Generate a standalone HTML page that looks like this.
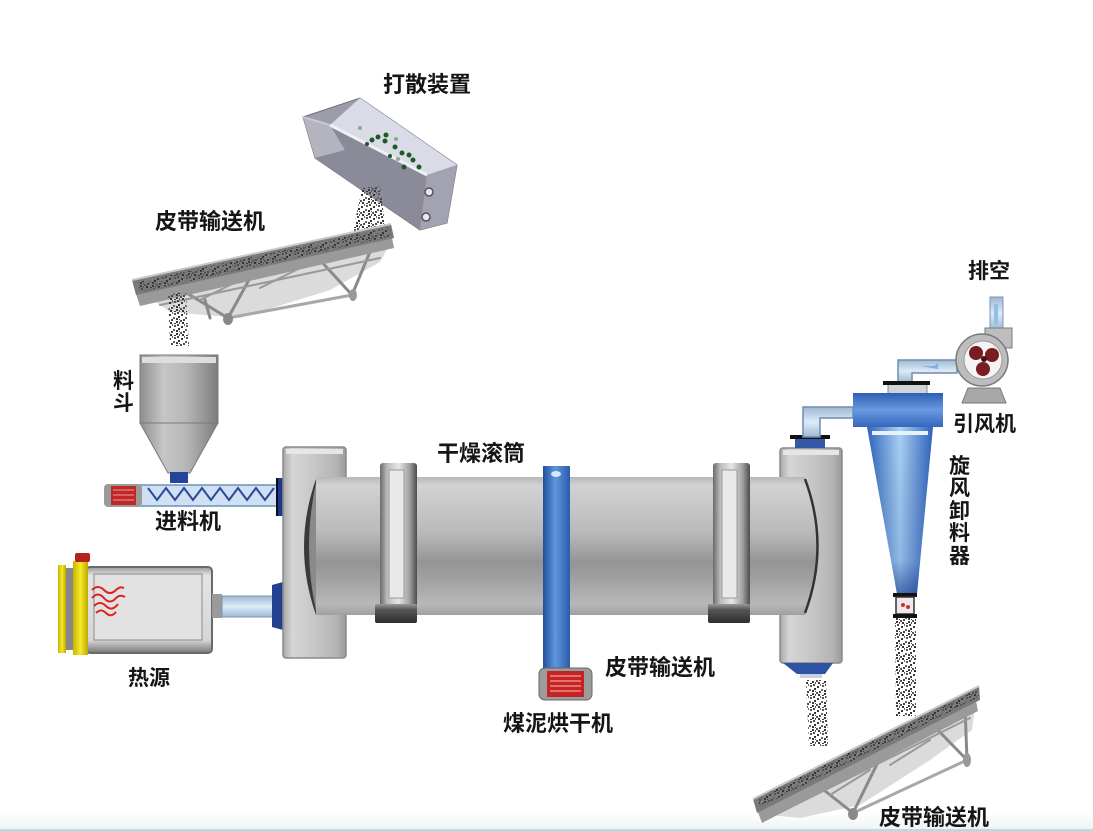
<!DOCTYPE html>
<html><head><meta charset="utf-8"><style>
html,body{margin:0;padding:0;background:#fff;}
svg{display:block;}
text{font-family:"Liberation Sans","Noto Sans CJK SC","WenQuanYi Zen Hei",sans-serif;font-weight:bold;fill:#151515;}
</style></head><body>
<svg width="1093" height="832" viewBox="0 0 1093 832" xmlns="http://www.w3.org/2000/svg">
<defs>
  <pattern id="sp" width="12" height="12" patternUnits="userSpaceOnUse">
    <rect x="1" y="2" width="2" height="2" fill="#3a3a3a"/><rect x="6" y="1" width="2" height="2" fill="#555"/>
    <rect x="10" y="4" width="2" height="2" fill="#333"/><rect x="3" y="7" width="2" height="2" fill="#4a4a4a"/>
    <rect x="8" y="9" width="2" height="2" fill="#3a3a3a"/><rect x="11" y="10" width="1" height="2" fill="#555"/>
    <rect x="2" y="10" width="2" height="2" fill="#333"/><rect x="5" y="5" width="2" height="2" fill="#666"/>
    <rect x="9" y="0" width="2" height="2" fill="#4a4a4a"/><rect x="6" y="11" width="2" height="1" fill="#3a3a3a"/>
    <rect x="0" y="8" width="2" height="2" fill="#555"/><rect x="8" y="6" width="2" height="2" fill="#3a3a3a"/>
    <rect x="4" y="0" width="1" height="2" fill="#666"/><rect x="11" y="7" width="1" height="1" fill="#444"/>
  </pattern>
  <linearGradient id="drum" x1="0" y1="0" x2="0" y2="1">
    <stop offset="0" stop-color="#b8b8b8"/><stop offset="0.06" stop-color="#d2d2d2"/>
    <stop offset="0.4" stop-color="#bababa"/><stop offset="0.62" stop-color="#949494"/>
    <stop offset="0.75" stop-color="#a2a2a2"/><stop offset="0.92" stop-color="#b8b8b8"/>
    <stop offset="1" stop-color="#a0a0a0"/>
  </linearGradient>
  <linearGradient id="house" x1="0" y1="0" x2="1" y2="0">
    <stop offset="0" stop-color="#a8a8a8"/><stop offset="0.15" stop-color="#d6d6d6"/>
    <stop offset="0.55" stop-color="#c4c4c4"/><stop offset="0.85" stop-color="#b4b4b4"/>
    <stop offset="1" stop-color="#9a9a9a"/>
  </linearGradient>
  <linearGradient id="ring" x1="0" y1="0" x2="1" y2="0">
    <stop offset="0" stop-color="#6a6a6a"/><stop offset="0.2" stop-color="#bdbdbd"/>
    <stop offset="0.5" stop-color="#e6e6e6"/><stop offset="0.8" stop-color="#a0a0a0"/>
    <stop offset="1" stop-color="#4c4c4c"/>
  </linearGradient>
  <linearGradient id="base" x1="0" y1="0" x2="0" y2="1">
    <stop offset="0" stop-color="#9a9a9a"/><stop offset="0.3" stop-color="#555"/><stop offset="1" stop-color="#2e2e2e"/>
  </linearGradient>
  <linearGradient id="bluebar" x1="0" y1="0" x2="1" y2="0">
    <stop offset="0" stop-color="#1f4f9e"/><stop offset="0.45" stop-color="#5f96dc"/>
    <stop offset="1" stop-color="#2a5cac"/>
  </linearGradient>
  <linearGradient id="hop" x1="0" y1="0" x2="1" y2="0">
    <stop offset="0" stop-color="#8e8e8e"/><stop offset="0.3" stop-color="#c6c6c6"/>
    <stop offset="0.6" stop-color="#b6b6b6"/><stop offset="1" stop-color="#7c7c7c"/>
  </linearGradient>
  <linearGradient id="cyhead" x1="0" y1="0" x2="0" y2="1">
    <stop offset="0" stop-color="#2d5fb4"/><stop offset="0.5" stop-color="#6a9ae0"/><stop offset="1" stop-color="#3466bc"/>
  </linearGradient>
  <linearGradient id="cone" x1="0" y1="0" x2="1" y2="0">
    <stop offset="0" stop-color="#2f62bd"/><stop offset="0.5" stop-color="#a9d2f6"/><stop offset="1" stop-color="#2f62bd"/>
  </linearGradient>
  <linearGradient id="conev" x1="0" y1="0" x2="0" y2="1">
    <stop offset="0" stop-color="#000" stop-opacity="0"/><stop offset="0.8" stop-color="#0a2a80" stop-opacity="0.15"/>
    <stop offset="1" stop-color="#0a2a80" stop-opacity="0.6"/>
  </linearGradient>
  <linearGradient id="pipe" x1="0" y1="0" x2="0" y2="1">
    <stop offset="0" stop-color="#9fb8d2"/><stop offset="0.5" stop-color="#dcebf8"/><stop offset="1" stop-color="#9fb8d2"/>
  </linearGradient>
  <linearGradient id="heatbox" x1="0" y1="0" x2="0" y2="1">
    <stop offset="0" stop-color="#9a9a9a"/><stop offset="0.1" stop-color="#e4e4e4"/>
    <stop offset="0.85" stop-color="#d6d6d6"/><stop offset="1" stop-color="#777"/>
  </linearGradient>
  <linearGradient id="yel" x1="0" y1="0" x2="1" y2="0">
    <stop offset="0" stop-color="#c8b400"/><stop offset="0.5" stop-color="#f6ea2a"/><stop offset="1" stop-color="#bca800"/>
  </linearGradient>
  <linearGradient id="bottomband" x1="0" y1="0" x2="0" y2="1">
    <stop offset="0" stop-color="#ffffff"/><stop offset="1" stop-color="#eef4f6"/>
  </linearGradient>
</defs>

<rect x="0" y="0" width="1093" height="832" fill="#fff"/>
<rect x="0" y="812" width="1093" height="18" fill="url(#bottomband)"/>
<rect x="0" y="829" width="1093" height="3" fill="#c9d5dc"/>

<!-- ===== 打散装置 trough ===== -->
<polygon points="303,117 360,98 457,165 447,223 420,230 315,158" fill="#9c9cab" stroke="#6e6e7c" stroke-width="1"/>
<polygon points="303,117 330,125 345,150 315,158" fill="#b4b4c0"/>
<polygon points="330,125 427,175 420,230 315,158 345,150" fill="#8a8a99"/>
<polygon points="330,125 360,98 457,165 427,175" fill="#d9dce6"/>
<polygon points="427,175 457,165 447,223 420,230" fill="#a2a2b0"/>
<line x1="330" y1="125" x2="427" y2="175" stroke="#f0f0f4" stroke-width="3"/>
<line x1="303" y1="117" x2="330" y2="125" stroke="#c8c8d2" stroke-width="2"/>
<circle cx="429" cy="192" r="4" fill="#e8e8ee" stroke="#555" stroke-width="1.5"/>
<circle cx="426" cy="217" r="4" fill="#e8e8ee" stroke="#555" stroke-width="1.5"/>
<g fill="#1e5a26">
<circle cx="372" cy="140" r="2.5"/><circle cx="378" cy="137" r="2.5"/><circle cx="386" cy="135" r="2.5"/>
<circle cx="385" cy="141" r="2.5"/><circle cx="395" cy="147" r="2.5"/><circle cx="402" cy="153" r="2.5"/>
<circle cx="409" cy="155" r="2.5"/><circle cx="413" cy="160" r="2.5"/><circle cx="404" cy="167" r="2.5"/>
<circle cx="390" cy="156" r="2"/><circle cx="419" cy="167" r="2.5"/><circle cx="367" cy="144" r="2"/>
</g>
<g fill="#8aa890"><circle cx="360" cy="128" r="2"/><circle cx="396" cy="139" r="2"/><circle cx="398" cy="159" r="2"/></g>

<!-- stream trough -> conveyor -->
<polygon points="362,188 380,186 386,232 352,236" fill="url(#sp)"/>

<!-- ===== Top-left conveyor ===== -->
<polygon points="150,298 390,244 380,262 330,290 240,318 170,312" fill="#d2d2d2" opacity="0.8"/>
<g stroke="#8a8a8a" stroke-width="3" fill="none" stroke-linecap="round">
  <line x1="185" y1="292" x2="228" y2="318"/>
  <line x1="250" y1="278" x2="228" y2="318"/>
  <line x1="320" y1="260" x2="352" y2="295"/>
  <line x1="372" y1="247" x2="352" y2="295"/>
  <line x1="228" y1="318" x2="352" y2="295" stroke="#a8a8a8"/>
  <line x1="160" y1="305" x2="380" y2="258" stroke="#999" stroke-width="2"/>
  <line x1="200" y1="300" x2="240" y2="280" stroke="#999" stroke-width="2"/>
  <line x1="260" y1="288" x2="300" y2="268" stroke="#999" stroke-width="2"/>
  <line x1="205" y1="300" x2="210" y2="318" stroke="#888" stroke-width="3"/>
</g>
<polygon points="136,294 392,238 394,248 140,306" fill="#9a9a9a"/>
<polygon points="132,280 391,224 394,238 136,295" fill="#7a7a7a"/>
<line x1="132" y1="280" x2="391" y2="224" stroke="#c9c9c9" stroke-width="2"/>
<polygon points="138,282 390,227 392,236 140,292" fill="url(#sp)"/>
<ellipse cx="228" cy="319" rx="5" ry="6" fill="#888"/>
<ellipse cx="353" cy="295" rx="4" ry="6" fill="#999"/>
<!-- stream from conveyor -->
<polygon points="168,294 186,292 189,346 170,346" fill="url(#sp)"/>

<!-- ===== Hopper 料斗 ===== -->
<rect x="140" y="355" width="78" height="68" fill="url(#hop)" stroke="#7a7a7a"/>
<rect x="142" y="357" width="74" height="6" fill="#dedede"/>
<polygon points="140,423 218,423 190,473 168,473" fill="url(#hop)" stroke="#7a7a7a"/>
<rect x="170" y="472" width="18" height="11" fill="#24449a"/>

<!-- ===== Screw feeder ===== -->
<rect x="140" y="485" width="138" height="21" fill="#cfe0f3" stroke="#6f8fb8" stroke-width="1.5"/>
<polyline points="148,488 157,500 166,488 175,500 184,488 193,500 202,488 211,500 220,488 229,500 238,488 247,500 256,488 265,500 274,488" fill="none" stroke="#27499a" stroke-width="2"/>
<rect x="104" y="484" width="38" height="23" rx="4" fill="#9a9a9a"/>
<rect x="111" y="486" width="25" height="19" fill="#c02828"/>
<g stroke="#f09a9a" stroke-width="1"><line x1="113" y1="490" x2="134" y2="490"/><line x1="113" y1="495" x2="134" y2="495"/><line x1="113" y1="500" x2="134" y2="500"/></g>
<rect x="276" y="478" width="9" height="38" fill="#20388a"/>
<line x1="277" y1="478" x2="277" y2="516" stroke="#000" stroke-width="1.5"/>

<!-- ===== Heat source ===== -->
<rect x="86" y="567" width="126" height="86" rx="4" fill="url(#heatbox)" stroke="#6a6a6a" stroke-width="2"/>
<rect x="94" y="574" width="108" height="66" fill="#e2e2e2" stroke="#8a8a8a" stroke-width="1"/>
<rect x="58" y="565" width="8" height="88" fill="url(#yel)"/>
<rect x="66" y="568" width="7" height="82" fill="#888"/>
<rect x="73" y="561" width="15" height="94" fill="url(#yel)"/>
<rect x="75" y="553" width="15" height="9" rx="2" fill="#b82020"/>
<g fill="none" stroke="#e02020" stroke-width="2">
  <path d="M92,590 q6,-6 12,0 t12,0 q4,-4 8,-2"/>
  <path d="M92,598 q6,-7 12,0 t12,0 q4,-4 9,-1"/>
  <path d="M94,606 q6,-6 12,0 t12,-2"/>
  <path d="M96,613 q5,-5 10,0 t10,-1"/>
</g>
<rect x="212" y="594" width="10" height="24" fill="#9a9a9a"/>
<rect x="222" y="596" width="52" height="21" fill="url(#pipe)" stroke="#7f95b0"/>
<path d="M272,585 L283,582 L283,630 L272,627 Z" fill="#23418f"/>

<!-- ===== Left housing ===== -->
<rect x="283" y="447" width="63" height="211" rx="3" fill="url(#house)" stroke="#8a8a8a" stroke-width="1.5"/>
<rect x="286" y="449" width="57" height="5" fill="#e6e6e6"/>

<!-- ===== Right housing ===== -->
<rect x="780" y="448" width="62" height="215" rx="3" fill="url(#house)" stroke="#8a8a8a" stroke-width="1.5"/>
<rect x="783" y="450" width="56" height="5" fill="#e6e6e6"/>
<rect x="790" y="435" width="40" height="4" fill="#111"/>
<rect x="795" y="439" width="30" height="9" fill="#3458a8"/>
<polygon points="783,663 833,663 825,674 797,674" fill="#2d52a6"/>
<rect x="800" y="674" width="22" height="4" fill="#c8d0e0"/>

<!-- ===== Drum ===== -->
<rect x="316" y="477" width="489" height="138" fill="url(#drum)"/>
<path d="M316,479 Q292,547 316,615 Z" fill="#3a3a3a"/>
<path d="M316,483 Q302,547 316,611 Z" fill="#8a8a8a"/>
<path d="M805,477 Q832,546 805,615 Z" fill="url(#drum)"/>
<path d="M805,479 Q830,546 805,613" fill="none" stroke="#333" stroke-width="2.5"/>

<!-- rings -->
<rect x="380" y="463" width="37" height="145" rx="3" fill="url(#ring)"/>
<rect x="389" y="470" width="15" height="128" fill="#e9e9e9" stroke="#9a9a9a"/>
<rect x="375" y="604" width="42" height="19" rx="2" fill="url(#base)"/>
<rect x="713" y="463" width="37" height="145" rx="3" fill="url(#ring)"/>
<rect x="722" y="470" width="15" height="128" fill="#e9e9e9" stroke="#9a9a9a"/>
<rect x="708" y="604" width="42" height="19" rx="2" fill="url(#base)"/>

<!-- blue bar -->
<rect x="543" y="466" width="27" height="222" fill="url(#bluebar)"/>
<ellipse cx="556" cy="474" rx="5" ry="3" fill="#d8e8fa"/>
<!-- motor -->
<rect x="539" y="668" width="53" height="32" rx="6" fill="#9c9c9c" stroke="#666"/>
<rect x="547" y="671" width="37" height="26" fill="#c62424"/>
<g stroke="#f2a0a0" stroke-width="1.2"><line x1="550" y1="676" x2="581" y2="676"/><line x1="550" y1="681" x2="581" y2="681"/><line x1="550" y1="686" x2="581" y2="686"/><line x1="550" y1="691" x2="581" y2="691"/></g>

<!-- ===== Cyclone & pipes ===== -->
<path d="M803,437 L803,407 L853,407 L853,418 L820,418 L820,437 Z" fill="url(#pipe)" stroke="#6f8cb2" stroke-width="1.5"/>
<path d="M898,382 L898,360 L957,360 L957,373 L912,373 L912,382 Z" fill="url(#pipe)" stroke="#6f8cb2" stroke-width="1.5"/>
<path d="M920,366 l14,0 l4,-3 l0,6 Z" fill="#7fb0e0"/>
<rect x="888" y="384" width="39" height="11" fill="#d0d4d8" stroke="#888"/>
<rect x="883" y="381" width="47" height="4" fill="#111"/>
<rect x="853" y="393" width="90" height="34" fill="url(#cyhead)"/>
<polygon points="867,427 933,427 917,594 897,594" fill="url(#cone)"/>
<polygon points="867,427 933,427 917,594 897,594" fill="url(#conev)"/>
<rect x="872" y="431" width="56" height="4" fill="#e6f2fc"/>
<rect x="893" y="593" width="24" height="4" fill="#111"/>
<rect x="896" y="597" width="18" height="17" fill="#f0e8ea" stroke="#333" stroke-width="1.5"/>
<circle cx="903" cy="605" r="2" fill="#d03030"/><circle cx="908" cy="607" r="2" fill="#d03030"/>
<rect x="893" y="614" width="24" height="4" fill="#111"/>

<!-- fan -->
<rect x="990" y="297" width="13" height="33" fill="url(#pipe)" stroke="#7f95b0"/>
<rect x="994" y="304" width="4" height="20" fill="#8fc0e8"/>
<path d="M962,403 L968,388 L1000,388 L1006,403 Z" fill="#a8a8a8" stroke="#777"/>
<rect x="985" y="328" width="27" height="20" fill="#bdbdbd" stroke="#7a7a7a"/>
<circle cx="982" cy="360" r="26" fill="#bdbdbd" stroke="#7a7a7a" stroke-width="1.5"/>
<circle cx="983" cy="360" r="19" fill="#f4f4f4" stroke="#999"/>
<circle cx="976" cy="353" r="7" fill="#7a1d22"/>
<circle cx="992" cy="355" r="7" fill="#7a1d22"/>
<circle cx="983" cy="369" r="7" fill="#7a1d22"/>
<circle cx="984" cy="359" r="3" fill="#4a1014"/>

<!-- streams bottom -->
<polygon points="806,680 826,680 828,746 809,746" fill="url(#sp)"/>
<polygon points="895,618 916,618 916,716 896,716" fill="url(#sp)"/>

<!-- ===== Bottom conveyor ===== -->
<polygon points="770,815 975,708 972,730 930,760 860,805 800,818" fill="#d2d2d2" opacity="0.8"/>
<g stroke="#8a8a8a" stroke-width="3" fill="none" stroke-linecap="round">
  <line x1="820" y1="787" x2="853" y2="813"/>
  <line x1="880" y1="758" x2="853" y2="813"/>
  <line x1="930" y1="722" x2="967" y2="760"/>
  <line x1="965" y1="707" x2="967" y2="760"/>
  <line x1="853" y1="813" x2="967" y2="760" stroke="#a8a8a8"/>
  <line x1="775" y1="815" x2="970" y2="718" stroke="#999" stroke-width="2"/>
  <line x1="830" y1="795" x2="870" y2="770" stroke="#999" stroke-width="2"/>
  <line x1="890" y1="765" x2="930" y2="740" stroke="#999" stroke-width="2"/>
</g>
<polygon points="758,812 976,701 978,711 762,823" fill="#9a9a9a"/>
<polygon points="753,799 979,686 980,700 757,813" fill="#7a7a7a"/>
<line x1="753" y1="799" x2="979" y2="686" stroke="#cacaca" stroke-width="2"/>
<polygon points="758,798 978,689 979,697 760,807" fill="url(#sp)"/>
<ellipse cx="853" cy="814" rx="5" ry="6" fill="#888"/>
<ellipse cx="967" cy="760" rx="4" ry="7" fill="#999"/>

<!-- ===== Labels ===== -->
<text x="383" y="92" font-size="22">打散装置</text>
<text x="155" y="229" font-size="22">皮带输送机</text>
<text x="113" y="388" font-size="21">料</text>
<text x="113" y="410" font-size="21">斗</text>
<text x="155" y="529" font-size="22">进料机</text>
<text x="128" y="685" font-size="21">热源</text>
<text x="437" y="461" font-size="22">干燥滚筒</text>
<text x="605" y="675" font-size="22">皮带输送机</text>
<text x="503" y="731" font-size="22">煤泥烘干机</text>
<text x="968" y="278" font-size="21">排空</text>
<text x="953" y="431" font-size="21">引风机</text>
<text x="949" y="473" font-size="21">旋</text>
<text x="949" y="495" font-size="21">风</text>
<text x="949" y="518" font-size="21">卸</text>
<text x="949" y="540" font-size="21">料</text>
<text x="949" y="563" font-size="21">器</text>
<text x="879" y="825" font-size="22">皮带输送机</text>
</svg>
</body></html>
